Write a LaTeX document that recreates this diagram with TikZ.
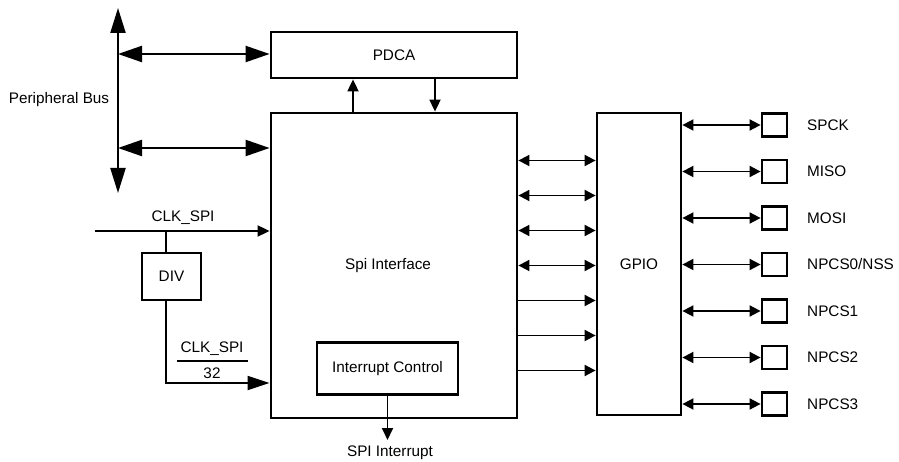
\documentclass[tikz,border=0pt]{standalone}
\usepackage{fontspec}
\setmainfont{Liberation Sans}
\usetikzlibrary{arrows.meta}
\begin{document}
\begin{tikzpicture}[x=1pt,y=-1pt,
  font=\fontsize{15.3}{17}\selectfont,
  blk/.style={draw,line width=2.8pt,inner sep=0pt,rectangle},
  pad/.style={draw,line width=2.8pt,inner sep=0pt,minimum width=25pt,minimum height=23pt},
  ln/.style={line width=1.8pt},
  sm/.style={ln,{Triangle[length=11pt,width=11pt]}-{Triangle[length=11pt,width=11pt]}},
  smr/.style={ln,-{Triangle[length=11pt,width=11pt]}},
  big/.style={line width=2.2pt,{Triangle[length=24pt,width=16pt]}-{Triangle[length=24pt,width=16pt]}},
  lbl/.style={inner sep=0pt,anchor=west}]
\useasboundingbox (0,0) rectangle (899,462);
% boxes
\node[blk,minimum width=246pt,minimum height=46pt] (pdca) at (394,55) {PDCA};
\node[blk,minimum width=246pt,minimum height=305pt] (spi) at (394,265.5) {};
\node (spitxt) at (388,266) {Spi Interface};
\node[blk,minimum width=141pt,minimum height=52pt] (ic) at (387.5,368.5) {Interrupt Control};
\node[blk,minimum width=59pt,minimum height=47pt] (div) at (171.5,276.5) {DIV};
\node[blk,minimum width=84pt,minimum height=302pt] (gpio) at (639,264) {GPIO};
% peripheral bus
\coordinate (bt) at (118,8);
\coordinate (bb) at (118,193);
\coordinate (b1) at (118,54);
\coordinate (b2) at (118,148);
\draw[line width=2.2pt,{Triangle[length=25pt,width=15pt]}-{Triangle[length=25pt,width=15pt]}] (bt) -- (bb);
\draw[big] (b1) -- (pdca.west |- b1);
\draw[big] (b2) -- (spi.west |- b2);
\node (pb) at (59,100) {Peripheral Bus};
% PDCA arrows
\coordinate (u1) at (353,0);
\coordinate (u2) at (435,0);
\draw[ln,-{Triangle[length=12pt,width=11pt]}] (spi.north -| u1) -- (pdca.south -| u1);
\draw[ln,-{Triangle[length=12pt,width=11pt]}] (pdca.south -| u2) -- (spi.north -| u2);
% clock
\coordinate (clkin) at (95,231);
\coordinate (j) at (166,231);
\coordinate (c32) at (166,383);
\draw[ln,-{Triangle[length=12pt,width=11pt]}] (clkin) -- (spi.west |- clkin);
\draw[ln] (j) -- (j |- div.north);
\draw[ln,-{Triangle[length=22pt,width=14pt]}] (j |- div.south) -- (c32) -- (spi.west |- c32);
\node (clk1) at (183,218) {CLK\_SPI};
\node (clk2) at (212,349) {CLK\_SPI};
\node (n32) at (212,373.5) {32};
\coordinate (fr1) at (177,361);
\coordinate (fr2) at (248,361);
\draw[line width=1.4pt] (fr1) -- (fr2);
% interrupt
\coordinate (ie) at (ic.south |- 0,440);
\draw[ln,-{Triangle[length=12pt,width=11pt]}] (ic.south) -- (ie);
\node (irq) at (390,453) {SPI Interrupt};
% spi to gpio
\foreach \i in {0,...,3}{
  \coordinate (s\i) at (517,160.5+35*\i);
  \draw[sm] (spi.east |- s\i) -- (gpio.west |- s\i);
}
\foreach \i in {4,...,6}{
  \coordinate (s\i) at (517,160.5+35*\i);
  \draw[smr] (spi.east |- s\i) -- (gpio.west |- s\i);
}
% pads
\foreach \i/\t in {0/SPCK,1/MISO,2/MOSI,3/NPCS0\slash NSS,4/NPCS1,5/NPCS2,6/NPCS3}{
  \node[pad] (p\i) at (774.5,125+46.5*\i) {};
  \draw[sm] (gpio.east |- p\i) -- (p\i.west);
  \node[lbl] (l\i) at (807,125+46.5*\i) {\t};
}
\end{tikzpicture}
\end{document}
